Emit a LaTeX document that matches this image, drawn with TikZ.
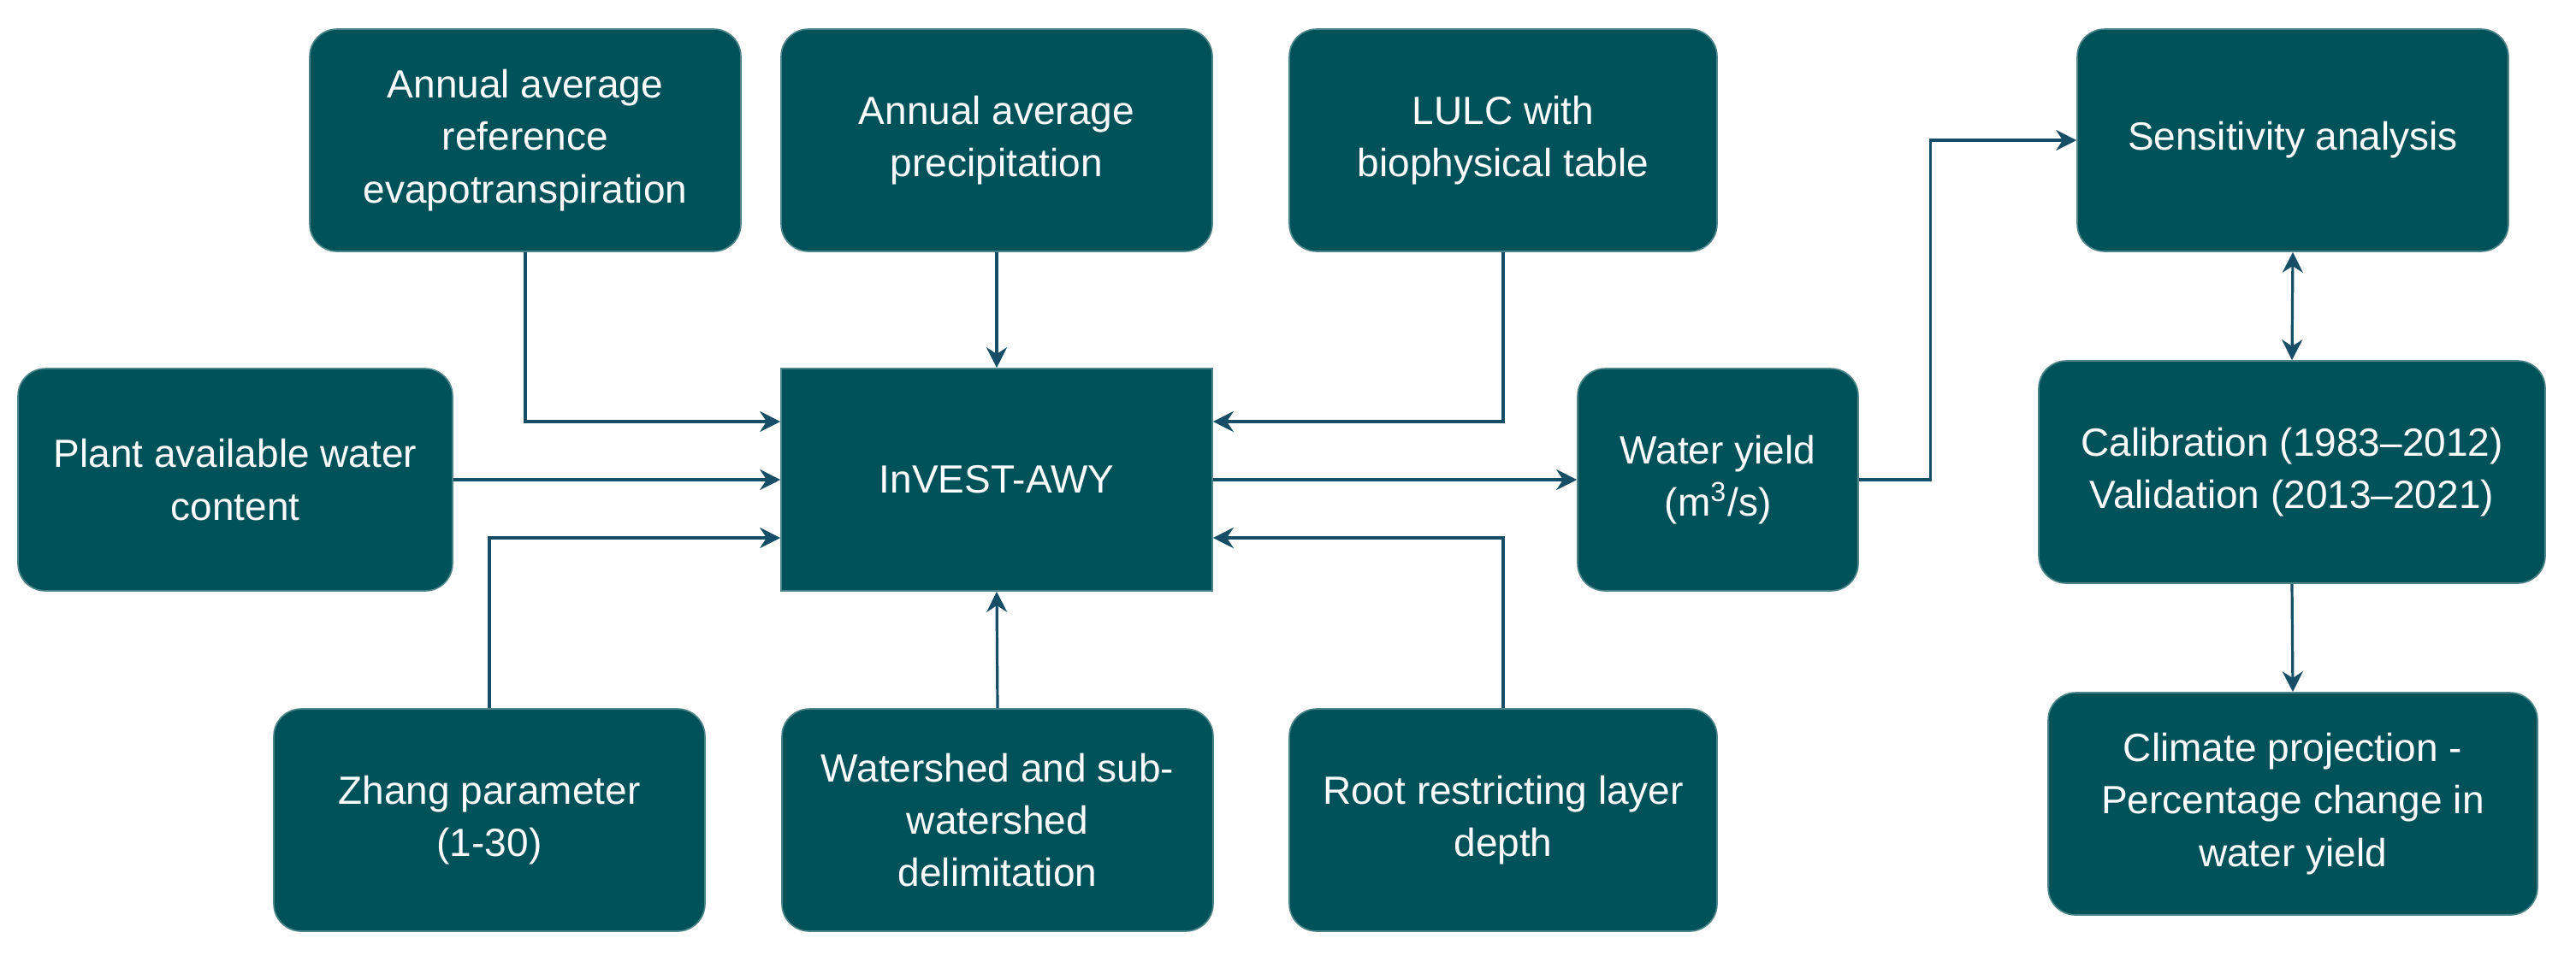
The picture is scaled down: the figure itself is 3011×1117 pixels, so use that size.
\documentclass[tikz,border=0pt]{standalone}
\usepackage{fontspec}
\setmainfont{Liberation Sans}
\usetikzlibrary{arrows.meta,calc}
\definecolor{boxfill}{RGB}{0,82,90}
\definecolor{arrowcol}{RGB}{22,78,104}
\tikzset{
  box/.style={draw=boxfill!70!white, line width=0.4pt, fill=boxfill, text=white, rounded corners=8pt,
    align=center, inner sep=2pt, font=\fontsize{11.5}{15.3}\selectfont},
  link/.style={draw=arrowcol, line width=0.8pt, -{Stealth[length=6pt,width=6pt]}}
}
\begin{document}
\begin{tikzpicture}[x=0.25pt,y=-0.25pt]
\useasboundingbox (0,0) rectangle (3011,1117);
% inputs, top row
\node (et) [box, minimum width=126pt, minimum height=65pt] at (614,164) {Annual average\\reference\\evapotranspiration};
\node (pr) [box, minimum width=126pt, minimum height=65pt] at (1165,164) {Annual average\\precipitation};
\node (lulc) [box, minimum width=125pt, minimum height=65pt] at (1757,164) {LULC with\\biophysical table};
% middle row
\node (paw) [box, minimum width=127pt, minimum height=65pt] at (275,561) {Plant available water\\content};
\node (invest) [box, rounded corners=0pt, minimum width=126pt, minimum height=65pt] at (1165,561) {InVEST-AWY};
\node (wy) [box, minimum width=82pt, minimum height=65pt] at (2008,561) {Water yield\\(m\textsuperscript{3}/s)};
% bottom row
\node (zh) [box, minimum width=126pt, minimum height=65pt] at (572,959) {Zhang parameter\\(1-30)};
\node (ws) [box, minimum width=126pt, minimum height=65pt] at (1166,959) {Watershed and sub-\\watershed\\delimitation};
\node (root) [box, minimum width=125pt, minimum height=65pt] at (1757,959) {Root restricting layer\\depth};
% outputs
\node (sens) [box, minimum width=126pt, minimum height=65pt] at (2680,164) {Sensitivity analysis};
\node (cal) [box, minimum width=148pt, minimum height=65pt] at (2679,552) {Calibration (1983–2012)\\Validation (2013–2021)};
\node (clim) [box, minimum width=143pt, minimum height=65pt] at (2680,940) {Climate projection -\\Percentage change in\\water yield};
% connectors
\draw[link] (et.south) |- ([yshift=17pt]invest.west);
\draw[link] (paw.east) -- (invest.west);
\draw[link] (zh.north) |- ([yshift=-17pt]invest.west);
\draw[link] (pr.south) -- (invest.north);
\draw[link] (ws.north) -- (invest.south);
\draw[link] (lulc.south) |- ([yshift=17pt]invest.east);
\draw[link] (root.north) |- ([yshift=-17pt]invest.east);
\draw[link] (invest.east) -- (wy.west);
\draw[link] (wy.east) -- ++(21pt,0) |- (sens.west);
\draw[link, {Stealth[length=6pt,width=6pt]}-{Stealth[length=6pt,width=6pt]}] (sens.south) -- (cal.north);
\draw[link] (cal.south) -- (clim.north);
\end{tikzpicture}
\end{document}
